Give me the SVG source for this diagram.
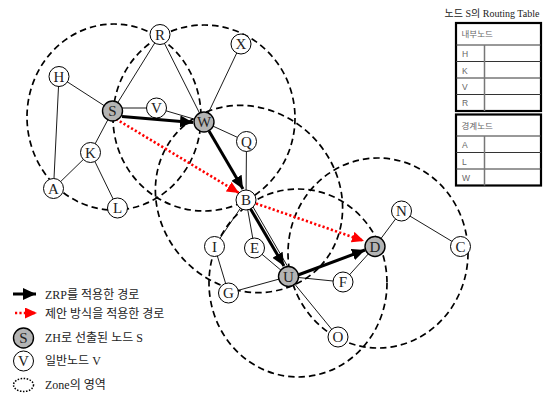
<svg xmlns="http://www.w3.org/2000/svg" width="557" height="398" viewBox="0 0 557 398">
  <style>
    .zone { fill: none; stroke: #000; stroke-width: 1.7; stroke-dasharray: 6.5 4; }
    .edge { stroke: #000; stroke-width: 0.9; fill: none; }
    .zrp { stroke: #000; stroke-width: 3; fill: none; }
    .prop { stroke: #ff0000; stroke-width: 2.6; stroke-dasharray: 2.2 2.2; fill: none; }
    .node { fill: #fff; stroke: #000; stroke-width: 1; }
    .zh { fill: #b4b4b4; stroke: #000; stroke-width: 1.4; }
    .lbl { font-family: "Liberation Serif", serif; font-size: 15px; text-anchor: middle; fill: #222; }
    .tbl { fill: #fff; stroke: #000; stroke-width: 2.2; }
    .row { stroke: #333; stroke-width: 1; }
    .col { stroke: #777; stroke-width: 1.5; }
    .cell { font-family: "Liberation Sans", "Noto Sans CJK KR", sans-serif; font-size: 8.5px; fill: #666; }
    .title { font-family: "Liberation Serif", "Noto Sans CJK KR", serif; font-size: 10px; fill: #222; text-anchor: middle; }
    .leg { font-family: "Liberation Serif", "Noto Sans CJK KR", serif; font-size: 12px; fill: #222; }
  </style>
  <defs>
    <marker id="headBlack" markerUnits="userSpaceOnUse" markerWidth="14" markerHeight="12" refX="13" refY="6" orient="auto">
      <path d="M0,0 L13,6 L0,12 z" fill="#000"/>
    </marker>
    <marker id="headRed" markerUnits="userSpaceOnUse" markerWidth="13" markerHeight="12" refX="12" refY="5.5" orient="auto">
      <path d="M0,0 L12,5.5 L0,11 z" fill="#ff0000"/>
    </marker>
  </defs>

  <!-- zone boundaries -->
  <g id="zones">
    <ellipse class="zone" cx="114" cy="117" rx="87" ry="93"/>
    <ellipse class="zone" cx="204" cy="118" rx="91" ry="93"/>
    <ellipse class="zone" cx="0" cy="0" rx="98" ry="89" transform="translate(249 199) rotate(45)"/>
    <ellipse class="zone" cx="298" cy="283" rx="89" ry="94"/>
    <ellipse class="zone" cx="378" cy="253" rx="90" ry="95"/>
  </g>

  <!-- links and routes -->
  <g id="connectors">
    <line class="edge" x1="59" y1="76.5" x2="112.5" y2="111"/>
    <line class="edge" x1="59" y1="76.5" x2="53.5" y2="188.5"/>
    <line class="edge" x1="112.5" y1="111" x2="160" y2="34.5"/>
    <line class="edge" x1="112.5" y1="108" x2="156.5" y2="108"/>
    <line class="edge" x1="156.5" y1="108" x2="204" y2="122"/>
    <line class="edge" x1="112.5" y1="111" x2="90.5" y2="152.5"/>
    <line class="edge" x1="90.5" y1="152.5" x2="53.5" y2="188.5"/>
    <line class="edge" x1="90.5" y1="152.5" x2="117.5" y2="208"/>
    <line class="edge" x1="160" y1="34.5" x2="204" y2="122"/>
    <line class="edge" x1="241" y1="44" x2="204" y2="122"/>
    <line class="edge" x1="204" y1="122" x2="246.5" y2="141.5"/>
    <line class="edge" x1="246.5" y1="141.5" x2="246" y2="200"/>
    <line class="edge" x1="246" y1="200" x2="214.5" y2="246.5"/>
    <line class="edge" x1="246" y1="200" x2="254.5" y2="248"/>
    <line class="edge" x1="249" y1="200" x2="292" y2="274"/>
    <line class="edge" x1="214.5" y1="246.5" x2="228.5" y2="293"/>
    <line class="edge" x1="254.5" y1="248" x2="288.5" y2="276.5"/>
    <line class="edge" x1="228.5" y1="293" x2="288.5" y2="276.5"/>
    <line class="edge" x1="288.5" y1="276.5" x2="343" y2="282"/>
    <line class="edge" x1="343" y1="282" x2="375" y2="246.5"/>
    <line class="edge" x1="288.5" y1="276.5" x2="338" y2="337"/>
    <line class="edge" x1="375" y1="246.5" x2="401.5" y2="211"/>
    <line class="edge" x1="401.5" y1="211" x2="460.5" y2="246.5"/>

    <!-- ZRP route S-W-B-U-D -->
    <line class="zrp" x1="122" y1="116.5" x2="193" y2="122.5" marker-end="url(#headBlack)"/>
    <line class="zrp" x1="209" y1="131" x2="243" y2="189" marker-end="url(#headBlack)"/>
    <line class="zrp" x1="250" y1="208" x2="284" y2="266" marker-end="url(#headBlack)"/>
    <line class="zrp" x1="298" y1="275" x2="365" y2="250" marker-end="url(#headBlack)"/>

    <!-- proposed route S-B-D -->
    <line class="prop" x1="116" y1="119" x2="239" y2="193" marker-end="url(#headRed)"/>
    <line class="prop" x1="256" y1="203.5" x2="364" y2="241" marker-end="url(#headRed)"/>
  </g>

  <!-- nodes -->
  <g id="node-R"><circle class="node" cx="160" cy="34.5" r="10"/><text class="lbl" x="160" y="39.5">R</text></g>
  <g id="node-X"><circle class="node" cx="241" cy="44" r="10"/><text class="lbl" x="241" y="49">X</text></g>
  <g id="node-H"><circle class="node" cx="59" cy="76.5" r="10"/><text class="lbl" x="59" y="81.5">H</text></g>
  <g id="node-S"><circle class="zh" cx="112.5" cy="111" r="10"/><text class="lbl" x="112.5" y="116">S</text></g>
  <g id="node-V"><circle class="node" cx="156.5" cy="108" r="10"/><text class="lbl" x="156.5" y="113">V</text></g>
  <g id="node-W"><circle class="zh" cx="204" cy="122" r="10"/><text class="lbl" x="204" y="127">W</text></g>
  <g id="node-Q"><circle class="node" cx="246.5" cy="141.5" r="10"/><text class="lbl" x="246.5" y="146.5">Q</text></g>
  <g id="node-K"><circle class="node" cx="90.5" cy="152.5" r="10"/><text class="lbl" x="90.5" y="157.5">K</text></g>
  <g id="node-A"><circle class="node" cx="53.5" cy="188.5" r="10"/><text class="lbl" x="53.5" y="193.5">A</text></g>
  <g id="node-L"><circle class="node" cx="117.5" cy="208" r="10"/><text class="lbl" x="117.5" y="213">L</text></g>
  <g id="node-B"><circle class="node" cx="246" cy="200" r="10"/><text class="lbl" x="246" y="205">B</text></g>
  <g id="node-I"><circle class="node" cx="214.5" cy="246.5" r="10"/><text class="lbl" x="214.5" y="251.5">I</text></g>
  <g id="node-E"><circle class="node" cx="254.5" cy="248" r="10"/><text class="lbl" x="254.5" y="253">E</text></g>
  <g id="node-U"><circle class="zh" cx="288.5" cy="276.5" r="10"/><text class="lbl" x="288.5" y="281.5">U</text></g>
  <g id="node-F"><circle class="node" cx="343" cy="282" r="10"/><text class="lbl" x="343" y="287">F</text></g>
  <g id="node-G"><circle class="node" cx="228.5" cy="293" r="10"/><text class="lbl" x="228.5" y="298">G</text></g>
  <g id="node-O"><circle class="node" cx="338" cy="337" r="10"/><text class="lbl" x="338" y="342">O</text></g>
  <g id="node-N"><circle class="node" cx="401.5" cy="211" r="10"/><text class="lbl" x="401.5" y="216">N</text></g>
  <g id="node-D"><circle class="zh" cx="375" cy="246.5" r="10"/><text class="lbl" x="375" y="251.5">D</text></g>
  <g id="node-C"><circle class="node" cx="460.5" cy="246.5" r="10"/><text class="lbl" x="460.5" y="251.5">C</text></g>

  <!-- routing table of S -->
  <g id="routing-table">
    <text class="title" x="492" y="17">노드 S의 Routing Table</text>
    <rect class="tbl" x="456" y="23" width="85" height="88"/>
    <line class="row" x1="456" y1="45" x2="541" y2="45"/>
    <line class="row" x1="456" y1="61.5" x2="541" y2="61.5"/>
    <line class="row" x1="456" y1="78" x2="541" y2="78"/>
    <line class="row" x1="456" y1="94.5" x2="541" y2="94.5"/>
    <line class="col" x1="484.5" y1="45" x2="484.5" y2="111"/>
    <text class="cell" x="461.5" y="37">내부노드</text>
    <text class="cell" x="462" y="57">H</text>
    <text class="cell" x="462" y="73.5">K</text>
    <text class="cell" x="462" y="90">V</text>
    <text class="cell" x="462" y="106">R</text>

    <rect class="tbl" x="456" y="114.5" width="85" height="71"/>
    <line class="row" x1="456" y1="136" x2="541" y2="136"/>
    <line class="row" x1="456" y1="152.5" x2="541" y2="152.5"/>
    <line class="row" x1="456" y1="169" x2="541" y2="169"/>
    <line class="col" x1="484.5" y1="136" x2="484.5" y2="185.5"/>
    <text class="cell" x="461.5" y="128.5">경계노드</text>
    <text class="cell" x="462" y="148">A</text>
    <text class="cell" x="462" y="164.5">L</text>
    <text class="cell" x="462" y="181">W</text>
  </g>

  <!-- legend -->
  <g id="legend">
    <line class="zrp" stroke-width="2" x1="13" y1="294" x2="36" y2="294" marker-end="url(#headBlack)"/>
    <text class="leg" x="45" y="299">ZRP를 적용한 경로</text>
    <line class="prop" stroke-width="2" x1="15" y1="313" x2="37" y2="313" marker-end="url(#headRed)"/>
    <text class="leg" x="45" y="318">제안 방식을 적용한 경로</text>
    <circle class="zh" cx="23.5" cy="338" r="10"/>
    <text class="lbl" x="23.5" y="342.5" font-size="12">S</text>
    <text class="leg" x="45" y="342">ZH로 선출된 노드 S</text>
    <circle class="node" cx="23.5" cy="361" r="10"/>
    <text class="lbl" x="23.5" y="365.5" font-size="12">V</text>
    <text class="leg" x="45" y="365">일반노드 V</text>
    <ellipse cx="23.5" cy="385" rx="10" ry="6.5" fill="none" stroke="#000" stroke-width="1.5" stroke-dasharray="1.5 1.5"/>
    <text class="leg" x="45" y="389">Zone의 영역</text>
  </g>
</svg>
